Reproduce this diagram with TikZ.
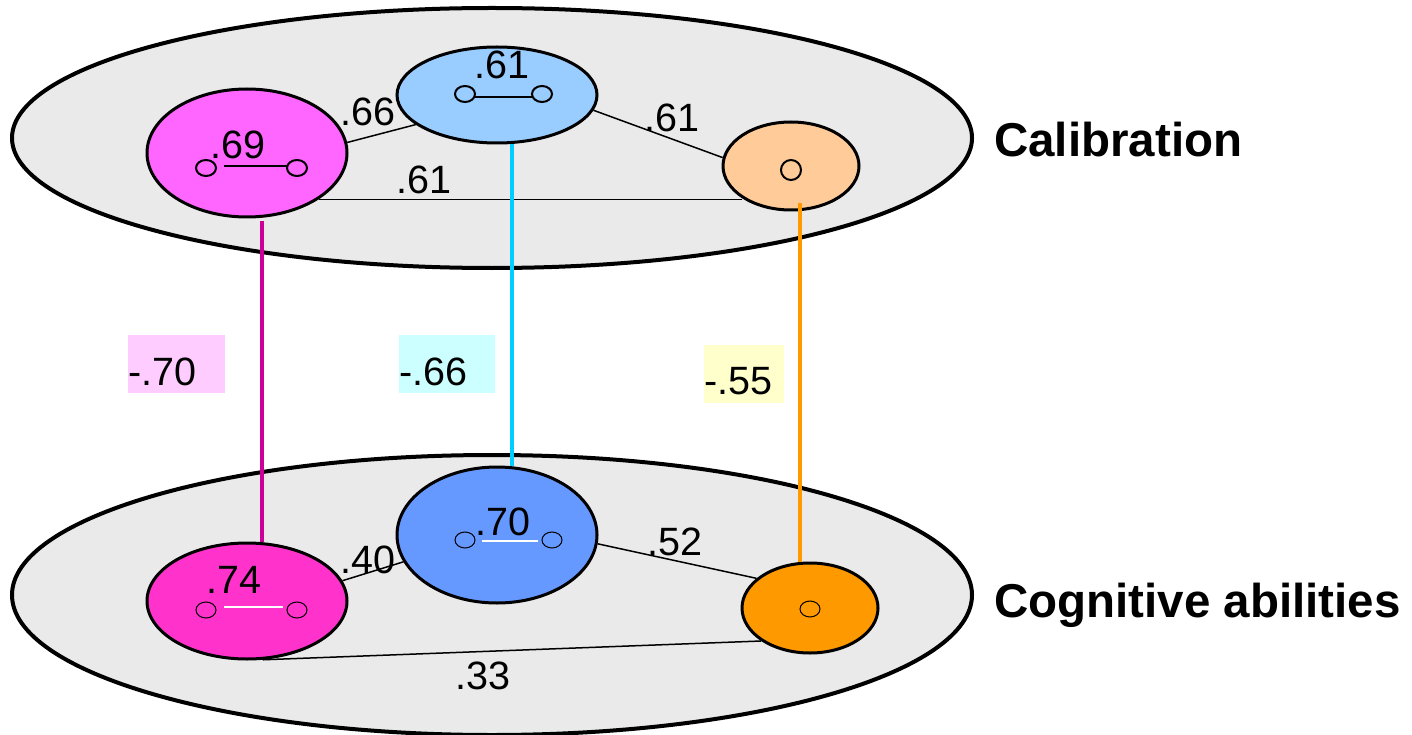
\documentclass[tikz,border=0pt]{standalone}
\usepackage{fontspec}
\setmainfont{Liberation Sans}
\usetikzlibrary{shapes.geometric,calc}
\definecolor{bg}{HTML}{EAEAEA}
\definecolor{magA}{HTML}{FF66FF}
\definecolor{bluA}{HTML}{99CCFF}
\definecolor{orgA}{HTML}{FFCC99}
\definecolor{magB}{HTML}{FF33CC}
\definecolor{bluB}{HTML}{6699FF}
\definecolor{orgB}{HTML}{FF9900}
\definecolor{magline}{HTML}{CC0099}
\definecolor{cyanline}{HTML}{00CCFF}
\definecolor{orgline}{HTML}{FF9900}
\definecolor{pinkbox}{HTML}{FFCCFF}
\definecolor{cyanbox}{HTML}{CCFFFF}
\definecolor{yellowbox}{HTML}{FFFFCC}
\begin{document}
\begin{tikzpicture}[x=1pt,y=-1pt,
  big/.style={ellipse, draw, line width=4pt, fill=bg, inner sep=0, minimum width=960pt},
  fac/.style={ellipse, draw, line width=3pt, inner sep=0},
  num/.style={inner sep=0, font=\fontsize{39.5}{42}\selectfont},
  side/.style={inner sep=0, anchor=base west, font=\fontsize{47.5}{50}\selectfont\bfseries},
  edgeline/.style={line width=1.5pt},
  vline/.style={line width=3.5pt},
  corr/.style={inner sep=0, align=left, text height=50pt, text depth=8pt, font=\fontsize{39.5}{42}\selectfont},
  ring/.style={line width=2pt},
  thinring/.style={line width=1pt}
]
\useasboundingbox (0,0) rectangle (1412,735);

% layers
\node[big, minimum height=260pt] (C) at (492,138) {};
\node[big, minimum height=280pt] (K) at (492,595) {};

% calibration factors
\node[fac, fill=magA, minimum width=200pt, minimum height=128pt] (m1) at (247,153) {};
\node[fac, fill=bluA, minimum width=200pt, minimum height=96pt] (b1) at (497,95) {};
\node[fac, fill=orgA, minimum width=136pt, minimum height=88pt] (o1) at (791,166) {};

% cognitive factors
\node[fac, fill=magB, minimum width=200pt, minimum height=116pt] (m2) at (247,601) {};
\node[fac, fill=bluB, minimum width=200pt, minimum height=136pt] (b2) at (497,535) {};
\node[fac, fill=orgB, minimum width=136pt, minimum height=90pt] (o2) at (810,608) {};

% glyphs top
\draw[ring] (206,168) ellipse [x radius=10pt, y radius=8pt];
\draw[ring] (297,168) ellipse [x radius=10pt, y radius=8pt];
\draw[line width=1.5pt] (224,166) -- (287,166);
\draw[ring] (465,94) ellipse [x radius=10pt, y radius=8pt];
\draw[ring] (542,94) ellipse [x radius=10pt, y radius=8pt];
\draw[line width=1.5pt] (475,97) -- (533,97);
\draw[ring] (791,170) ellipse [x radius=10pt, y radius=10pt];

% glyphs bottom
\draw[thinring] (206,610) ellipse [x radius=10pt, y radius=8pt];
\draw[thinring] (297,610) ellipse [x radius=10pt, y radius=8pt];
\draw[white, line width=2pt] (224,607) -- (283,607);
\draw[thinring] (465,540) ellipse [x radius=10pt, y radius=8pt];
\draw[thinring] (552,540) ellipse [x radius=10pt, y radius=8pt];
\draw[white, line width=2pt] (482,541) -- (538,541);
\draw[thinring] (810,609) ellipse [x radius=10pt, y radius=8pt];

% factor numbers
\node[num] (t69) at (238,145) {.69};
\node[num] (t61) at (502,65) {.61};
\node[num] (t74) at (234,580) {.74};
\node[num] (t70) at (503,522) {.70};

% edges
\draw[edgeline] (m1.6) -- (b1.200);
\draw[edgeline] (b1.-9) -- (o1.173);
\draw[edgeline] (m1.-33) -- (m1.-33 -| o1.213);
\draw[edgeline] (m2.12) -- (b2.196);
\draw[edgeline] (b2.-5) -- (o2.151);
\draw[edgeline] (m2.-75) -- (o2.214);

% edge labels
\node[num] (l66) at (368,112) {.66};
\node[num] (l61a) at (672,118) {.61};
\node[num] (l61b) at (424,180) {.61};
\node[num] (l40) at (368,560) {.40};
\node[num] (l52) at (675,542) {.52};
\node[num] (l33) at (483,676) {.33};

% vertical links
\draw[vline, magline] ([xshift=15pt,yshift=-3pt]m1.south) -- ([xshift=15pt]m1.south |- m2.north);
\draw[vline, cyanline] ([xshift=15pt]b1.south) -- ([xshift=15pt]b1.south |- b2.north);
\draw[vline, orgline] ([xshift=9pt,yshift=8pt]o1.south) -- ([xshift=9pt]o1.south |- o2.north);

% correlation boxes
\node[corr, fill=pinkbox, text width=97pt] (r70) at (176.5,364) {-.70};
\node[corr, fill=cyanbox, text width=96pt] (r66) at (447,364) {-.66};
\node[corr, fill=yellowbox, text width=80pt, text height=49pt, text depth=9pt] (r55) at (744,374) {-.55};

% layer names
\node[side] (nC) at (994,157) {Calibration};
\node[side] (nK) at (994,617) {Cognitive abilities};
\end{tikzpicture}
\end{document}
